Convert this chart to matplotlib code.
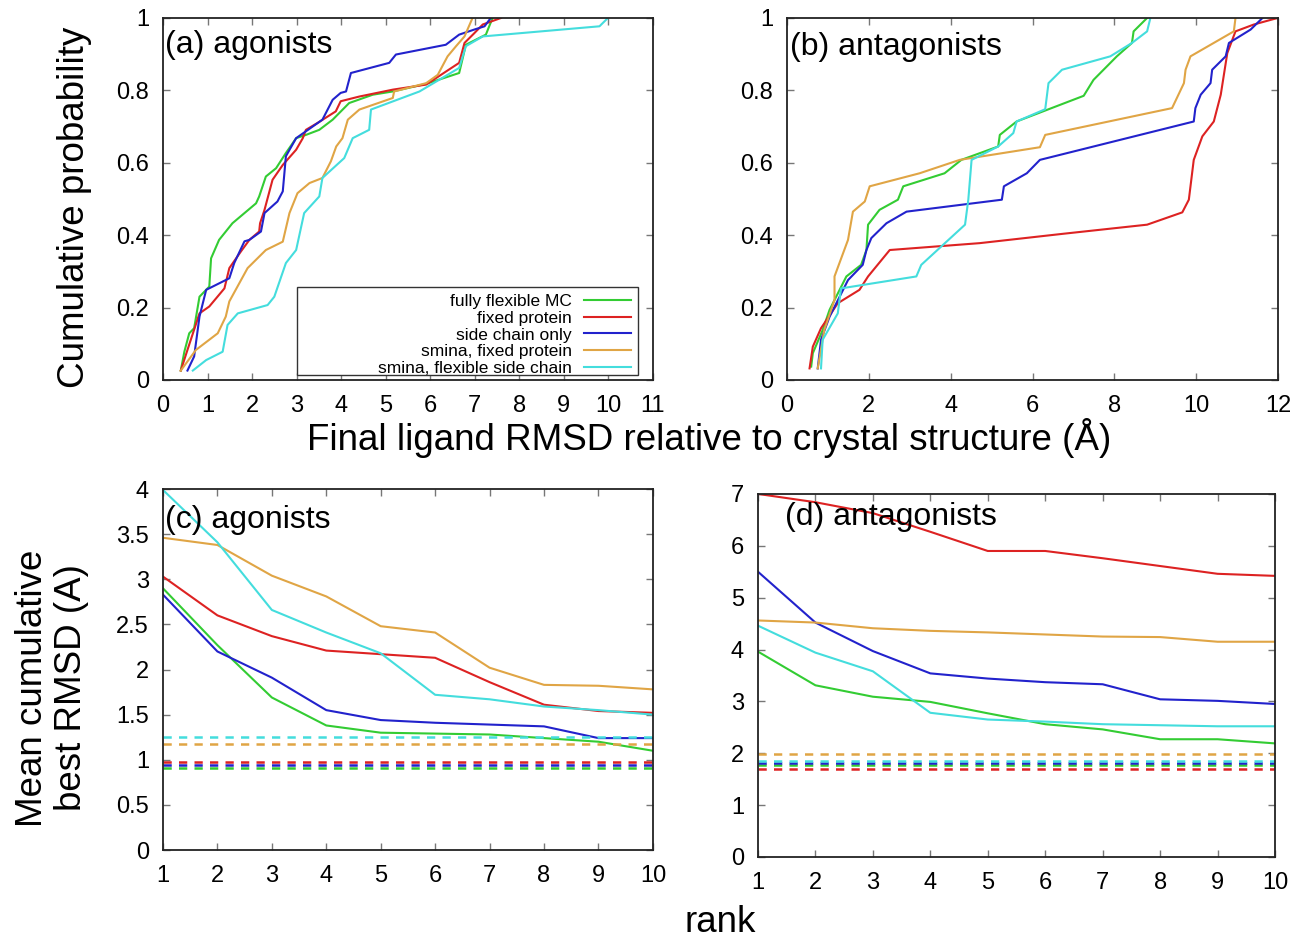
import matplotlib
matplotlib.use("Agg")
import matplotlib.pyplot as plt
from matplotlib.patches import Rectangle

plt.rcParams['font.family'] = ['Liberation Sans', 'DejaVu Sans']

methods = ['fully flexible MC', 'fixed protein', 'side chain only',
           'smina, fixed protein', 'smina, flexible side chain']
colors = ['#33cc33', '#dd2222', '#2222cc', '#e0a545', '#44dddd']

# (a) agonists: cumulative distribution of final ligand RMSD
ag_rmsd = [
    [0.40, 0.48, 0.59, 0.70, 0.82, 1.04, 1.08, 1.26, 1.56, 2.09, 2.16, 2.31, 2.54, 2.76,
     2.99, 3.21, 3.51, 3.81, 4.18, 4.71, 5.16, 5.91, 6.65, 6.73, 6.80, 7.25, 7.40],
    [0.40, 0.55, 0.82, 1.04, 1.38, 1.49, 1.75, 1.94, 2.16, 2.18, 2.28, 2.46, 2.69, 2.99,
     3.14, 3.21, 3.47, 3.88, 3.99, 4.41, 5.16, 5.91, 6.65, 6.77, 6.99, 7.18, 7.59],
    [0.55, 0.70, 0.82, 0.97, 1.49, 1.60, 1.83, 1.94, 2.20, 2.28, 2.57, 2.69, 2.76, 2.99,
     3.21, 3.58, 3.81, 3.99, 4.11, 4.22, 5.08, 5.23, 6.35, 6.65, 6.99, 7.22, 7.36],
    [0.40, 0.74, 1.23, 1.41, 1.49, 1.90, 2.31, 2.69, 2.84, 3.02, 3.29, 3.58, 3.77, 3.89,
     4.03, 4.15, 4.41, 5.16, 5.19, 5.91, 6.17, 6.39, 6.58, 6.77, 6.95],
    [0.67, 0.97, 1.34, 1.45, 1.68, 2.35, 2.50, 2.76, 2.99, 3.17, 3.51, 3.58, 4.07, 4.26,
     4.63, 4.67, 5.76, 6.65, 6.80, 7.18, 9.80, 9.99],
]
ag_prob = [
    [0.026, 0.078, 0.129, 0.143, 0.23, 0.258, 0.336, 0.387, 0.433, 0.488, 0.507, 0.562, 0.585,
     0.627, 0.668, 0.677, 0.691, 0.719, 0.765, 0.788, 0.797, 0.818, 0.848, 0.889, 0.926, 0.954, 1.0],
    [0.026, 0.083, 0.184, 0.203, 0.253, 0.309, 0.355, 0.387, 0.41, 0.433, 0.47, 0.553, 0.594,
     0.636, 0.668, 0.691, 0.710, 0.742, 0.770, 0.783, 0.802, 0.816, 0.876, 0.931, 0.958, 0.982, 1.0],
    [0.026, 0.065, 0.175, 0.249, 0.281, 0.323, 0.383, 0.387, 0.41, 0.461, 0.493, 0.521, 0.618,
     0.668, 0.687, 0.719, 0.774, 0.793, 0.797, 0.848, 0.876, 0.899, 0.926, 0.954, 0.968, 0.977, 1.0],
    [0.026, 0.083, 0.129, 0.175, 0.217, 0.309, 0.359, 0.382, 0.461, 0.516, 0.544, 0.558, 0.604,
     0.645, 0.668, 0.719, 0.747, 0.779, 0.797, 0.82, 0.843, 0.894, 0.922, 0.949, 1.0],
    [0.026, 0.055, 0.078, 0.152, 0.184, 0.207, 0.23, 0.323, 0.359, 0.461, 0.507, 0.558, 0.613,
     0.668, 0.691, 0.747, 0.797, 0.862, 0.922, 0.949, 0.977, 1.0],
]

# (b) antagonists
an_rmsd = [
    [0.59, 0.63, 0.87, 1.04, 1.45, 1.81, 1.94, 1.98, 2.26, 2.71, 2.84, 3.85, 4.26, 5.16, 5.20,
     5.61, 7.25, 7.49, 8.06, 8.43, 8.47, 8.80],
    [0.55, 0.63, 0.83, 1.24, 1.77, 1.98, 2.51, 4.71, 6.76, 8.80, 9.66, 9.82, 9.94, 10.15, 10.43,
     10.60, 10.76, 10.96, 11.41, 11.99],
    [0.75, 0.83, 1.04, 1.49, 1.85, 1.94, 2.06, 2.43, 2.92, 5.25, 5.30, 5.86, 6.18, 9.94, 9.98,
     10.11, 10.35, 10.39, 10.72, 10.80, 11.33, 11.62],
    [0.75, 0.91, 1.16, 1.16, 1.49, 1.61, 1.90, 2.02, 3.24, 4.22, 6.18, 6.31, 9.41, 9.70, 9.74,
     9.86, 10.92, 10.96],
    [0.83, 0.87, 1.24, 1.32, 3.16, 3.28, 4.35, 4.43, 4.51, 5.16, 5.53, 5.61, 6.31, 6.39, 6.72,
     7.90, 8.43, 8.80, 8.88],
]
an_prob = [
    [0.037, 0.074, 0.138, 0.194, 0.286, 0.318, 0.359, 0.429, 0.47, 0.498, 0.535, 0.571, 0.608,
     0.645, 0.677, 0.714, 0.785, 0.829, 0.894, 0.931, 0.963, 1.0],
    [0.032, 0.092, 0.143, 0.212, 0.249, 0.286, 0.359, 0.378, 0.404, 0.429, 0.463, 0.498, 0.608,
     0.673, 0.714, 0.788, 0.903, 0.963, 0.982, 1.0],
    [0.032, 0.111, 0.175, 0.276, 0.318, 0.359, 0.392, 0.433, 0.465, 0.498, 0.535, 0.571, 0.608,
     0.714, 0.751, 0.788, 0.820, 0.857, 0.894, 0.931, 0.968, 1.0],
    [0.032, 0.138, 0.221, 0.286, 0.387, 0.465, 0.493, 0.535, 0.571, 0.608, 0.643, 0.677, 0.751,
     0.82, 0.857, 0.894, 0.963, 1.0],
    [0.032, 0.111, 0.184, 0.253, 0.286, 0.318, 0.429, 0.498, 0.608, 0.645, 0.682, 0.714, 0.748,
     0.820, 0.857, 0.894, 0.931, 0.963, 1.0],
]

# (c)/(d) mean cumulative best RMSD vs rank, plus reference (dashed) levels
ranks = [1, 2, 3, 4, 5, 6, 7, 8, 9, 10]
ag_best = [
    [2.90, 2.27, 1.69, 1.38, 1.30, 1.29, 1.28, 1.24, 1.20, 1.10],
    [3.03, 2.60, 2.37, 2.21, 2.17, 2.13, 1.86, 1.61, 1.54, 1.52],
    [2.83, 2.20, 1.91, 1.55, 1.44, 1.41, 1.39, 1.37, 1.24, 1.24],
    [3.46, 3.38, 3.04, 2.81, 2.48, 2.41, 2.02, 1.83, 1.82, 1.78],
    [3.99, 3.41, 2.66, 2.41, 2.18, 1.72, 1.67, 1.59, 1.55, 1.50],
]
ag_ref = [0.91, 0.97, 0.94, 1.18, 1.25]
an_best = [
    [3.96, 3.31, 3.09, 2.99, 2.77, 2.56, 2.46, 2.27, 2.27, 2.19],
    [7.00, 6.84, 6.63, 6.27, 5.90, 5.90, 5.76, 5.61, 5.46, 5.42],
    [5.50, 4.52, 3.97, 3.54, 3.44, 3.37, 3.33, 3.04, 3.01, 2.95],
    [4.56, 4.52, 4.41, 4.36, 4.33, 4.29, 4.25, 4.24, 4.15, 4.15],
    [4.46, 3.94, 3.58, 2.78, 2.65, 2.61, 2.56, 2.54, 2.52, 2.52],
]
an_ref = [1.77, 1.69, 1.81, 1.99, 1.85]

fig = plt.figure(figsize=(13.1, 9.41), dpi=100)
ax_a = fig.add_axes([0.1244, 0.5962, 0.3740, 0.3847])
ax_b = fig.add_axes([0.6008, 0.5962, 0.3748, 0.3847])
ax_c = fig.add_axes([0.1244, 0.0967, 0.3740, 0.3836])
ax_d = fig.add_axes([0.5786, 0.0893, 0.3947, 0.3858])


def style(ax):
    for s in ax.spines.values():
        s.set_linewidth(1.3)
        s.set_color('#222222')
    ax.tick_params(direction='in', length=5, width=1, color='#777777',
                   top=True, right=True, labelsize=17)
    ax.tick_params(axis='y', pad=10)
    ax.tick_params(axis='x', pad=11)


lw = 1.5
dash = (0, (3.3, 2.9))

for i in range(5):
    ax_a.plot(ag_rmsd[i], ag_prob[i], color=colors[i], lw=lw, label=methods[i])
    ax_b.plot(an_rmsd[i], an_prob[i], color=colors[i], lw=lw)
    ax_c.plot(ranks, ag_best[i], color=colors[i], lw=lw)
    ax_c.axhline(ag_ref[i], color=colors[i], lw=lw + 0.3, ls=dash)
    ax_d.plot(ranks, an_best[i], color=colors[i], lw=lw)
    ax_d.axhline(an_ref[i], color=colors[i], lw=lw + 0.3, ls=dash)

prob_ticks = [0, 0.2, 0.4, 0.6, 0.8, 1]
prob_labels = ['0', '0.2', '0.4', '0.6', '0.8', '1']
for ax in (ax_a, ax_b):
    ax.set_ylim(0, 1)
    ax.set_yticks(prob_ticks)
    ax.set_yticklabels(prob_labels)
ax_a.set_xlim(0, 11)
ax_a.set_xticks(range(0, 12))
ax_b.set_xlim(0, 12)
ax_b.set_xticks(range(0, 13, 2))

ax_c.set_xlim(1, 10)
ax_c.set_ylim(0, 4)
ax_c.set_xticks(ranks)
ax_c.set_yticks([0, 0.5, 1, 1.5, 2, 2.5, 3, 3.5, 4])
ax_c.set_yticklabels(['0', '0.5', '1', '1.5', '2', '2.5', '3', '3.5', '4'])
ax_d.set_xlim(1, 10)
ax_d.set_ylim(0, 7)
ax_d.set_xticks(ranks)
ax_d.set_yticks(range(0, 8))

for ax in (ax_a, ax_b, ax_c, ax_d):
    style(ax)

ax_a.text(0.004, 0.968, '(a) agonists', transform=ax_a.transAxes, fontsize=23, va='top')
ax_b.text(0.006, 0.962, '(b) antagonists', transform=ax_b.transAxes, fontsize=23, va='top')
ax_c.text(0.004, 0.957, '(c) agonists', transform=ax_c.transAxes, fontsize=23, va='top')
ax_d.text(0.052, 0.978, '(d) antagonists', transform=ax_d.transAxes, fontsize=23, va='top')

# gnuplot-like key: box, right-aligned labels, sample line to the right
ax_a.add_patch(Rectangle((0.273, 0.014), 0.696, 0.243, transform=ax_a.transAxes,
                         facecolor='white', edgecolor='#333333', lw=1.0, zorder=3))
leg = ax_a.legend(loc='lower right', bbox_to_anchor=(0.955, 0.012), frameon=False,
                  markerfirst=False, fontsize=12.5, handlelength=2.7, handletextpad=0.7,
                  labelspacing=0.08, borderpad=0, borderaxespad=0)
leg.set_zorder(4)

fig.text(0.057, 0.780, 'Cumulative probability', rotation=90, ha='center', va='center',
         fontsize=26.5)
fig.text(0.541, 0.535, 'Final ligand RMSD relative to crystal structure (Å)',
         ha='center', va='center', fontsize=26.5)
fig.text(0.040, 0.269, 'Mean cumulative\nbest RMSD (A)', rotation=90, ha='center',
         va='center', fontsize=26.5, linespacing=1.15)
fig.text(0.550, 0.020, 'rank', ha='center', va='center', fontsize=26.5)

fig.savefig('out.png', dpi=100)
